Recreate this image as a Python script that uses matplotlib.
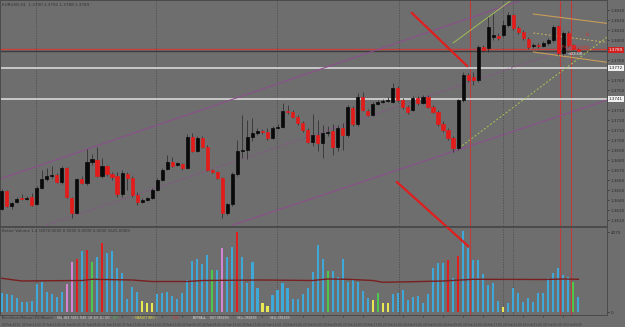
import matplotlib
matplotlib.use("Agg")
import matplotlib.pyplot as plt
import pandas as pd

# ---------------- data ----------------
opens = [1.3631, 1.3649, 1.3634, 1.3638, 1.3642, 1.3641, 1.3643, 1.3636, 1.3652, 1.3661,
         1.3664, 1.3665, 1.3658, 1.3672, 1.3642, 1.3627, 1.3661, 1.3657, 1.3678, 1.3680,
         1.3664, 1.3674, 1.3666, 1.3664, 1.3646, 1.3666, 1.3662, 1.3645, 1.3638, 1.3640,
         1.3642, 1.3650, 1.3660, 1.3671, 1.3678, 1.3675, 1.3676, 1.3672, 1.3703, 1.3689,
         1.3702, 1.3693, 1.3670, 1.3668, 1.3662, 1.3627, 1.3636, 1.3666, 1.3689, 1.3690,
         1.3703, 1.3707, 1.3709, 1.3708, 1.3702, 1.3712, 1.3713, 1.3729, 1.3728, 1.3723,
         1.3717, 1.3710, 1.3698, 1.3705, 1.3697, 1.3707, 1.3709, 1.3693, 1.3712, 1.3705,
         1.3732, 1.3716, 1.3743, 1.3729, 1.3725, 1.3736, 1.3738, 1.3739, 1.3738, 1.3752,
         1.3740, 1.3733, 1.3730, 1.3742, 1.3737, 1.3743, 1.3733, 1.3728, 1.3716, 1.3710,
         1.3702, 1.3692, 1.3740, 1.3765, 1.3763, 1.3760, 1.3793, 1.3792, 1.3803, 1.3804,
         1.3805, 1.3815, 1.3825, 1.3812, 1.3808, 1.3801, 1.3794, 1.3795, 1.3794, 1.3797,
         1.3800, 1.3814, 1.3787, 1.3807, 1.3795, 1.3791]
highs = [1.3651, 1.3650, 1.3638, 1.3643, 1.3646, 1.3644, 1.3647, 1.3654, 1.3670, 1.3672,
         1.3674, 1.3667, 1.3674, 1.3673, 1.3643, 1.3662, 1.3664, 1.3691, 1.3686, 1.3693,
         1.3682, 1.3675, 1.3668, 1.3668, 1.3670, 1.3668, 1.3664, 1.3648, 1.3642, 1.3643,
         1.3652, 1.3662, 1.3672, 1.3685, 1.3683, 1.3678, 1.3677, 1.3706, 1.3707, 1.3704,
         1.3704, 1.3695, 1.3671, 1.3669, 1.3663, 1.3637, 1.3668, 1.3700, 1.3725, 1.3720,
         1.3722, 1.3712, 1.3711, 1.3712, 1.3714, 1.3716, 1.3737, 1.3735, 1.3730, 1.3725,
         1.3719, 1.3712, 1.3726, 1.3720, 1.3715, 1.3714, 1.3716, 1.3715, 1.3717, 1.3735,
         1.3734, 1.3747, 1.3748, 1.3731, 1.3738, 1.3740, 1.3741, 1.3743, 1.3757, 1.3754,
         1.3742, 1.3735, 1.3744, 1.3744, 1.3745, 1.3745, 1.3735, 1.3730, 1.3719, 1.3712,
         1.3704, 1.3741, 1.3768, 1.3767, 1.3768, 1.3795, 1.3795, 1.3823, 1.3826, 1.3807,
         1.3820, 1.3828, 1.3826, 1.3814, 1.3810, 1.3803, 1.3797, 1.3797, 1.3799, 1.3802,
         1.3815, 1.3815, 1.3809, 1.3809, 1.3796, 1.3792]
lows = [1.3630, 1.3633, 1.3631, 1.3637, 1.3640, 1.3640, 1.3634, 1.3635, 1.3651, 1.3659,
        1.3662, 1.3657, 1.3656, 1.3642, 1.3622, 1.3626, 1.3656, 1.3655, 1.3675, 1.3663,
        1.3662, 1.3664, 1.3660, 1.3643, 1.3643, 1.3650, 1.3643, 1.3635, 1.3637, 1.3639,
        1.3641, 1.3649, 1.3659, 1.3670, 1.3673, 1.3674, 1.3670, 1.3671, 1.3688, 1.3688,
        1.3692, 1.3669, 1.3667, 1.3661, 1.3622, 1.3625, 1.3634, 1.3664, 1.3682, 1.3681,
        1.3699, 1.3705, 1.3706, 1.3700, 1.3701, 1.3711, 1.3712, 1.3726, 1.3722, 1.3715,
        1.3708, 1.3697, 1.3694, 1.3689, 1.3682, 1.3704, 1.3685, 1.3689, 1.3690, 1.3703,
        1.3714, 1.3714, 1.3729, 1.3724, 1.3724, 1.3735, 1.3737, 1.3738, 1.3737, 1.3738,
        1.3731, 1.3726, 1.3729, 1.3735, 1.3736, 1.3732, 1.3727, 1.3714, 1.3708, 1.3700,
        1.3688, 1.3690, 1.3738, 1.3758, 1.3755, 1.3758, 1.3788, 1.3788, 1.3800, 1.3800,
        1.3803, 1.3813, 1.3810, 1.3806, 1.3800, 1.3791, 1.3792, 1.3792, 1.3793, 1.3795,
        1.3798, 1.3785, 1.3785, 1.3793, 1.3790, 1.3788]
closes = [1.3649, 1.3634, 1.3637, 1.3641, 1.3641, 1.3642, 1.3635, 1.3652, 1.3661, 1.3664,
          1.3665, 1.3658, 1.3672, 1.3643, 1.3627, 1.3661, 1.3657, 1.3678, 1.3681, 1.3664,
          1.3674, 1.3666, 1.3663, 1.3646, 1.3667, 1.3662, 1.3645, 1.3638, 1.3640, 1.3642,
          1.3650, 1.3660, 1.3670, 1.3678, 1.3674, 1.3677, 1.3672, 1.3703, 1.3689, 1.3702,
          1.3693, 1.3670, 1.3668, 1.3662, 1.3627, 1.3636, 1.3666, 1.3689, 1.3690, 1.3703,
          1.3707, 1.3709, 1.3708, 1.3702, 1.3712, 1.3713, 1.3729, 1.3728, 1.3723, 1.3717,
          1.3710, 1.3698, 1.3705, 1.3697, 1.3707, 1.3708, 1.3693, 1.3712, 1.3705, 1.3733,
          1.3716, 1.3743, 1.3730, 1.3725, 1.3736, 1.3738, 1.3739, 1.3740, 1.3752, 1.3740,
          1.3733, 1.3728, 1.3742, 1.3737, 1.3743, 1.3733, 1.3728, 1.3716, 1.3710, 1.3702,
          1.3692, 1.3740, 1.3765, 1.3760, 1.3760, 1.3793, 1.3790, 1.3813, 1.3805, 1.3802,
          1.3815, 1.3825, 1.3812, 1.3808, 1.3802, 1.3793, 1.3795, 1.3794, 1.3797, 1.3800,
          1.3813, 1.3787, 1.3807, 1.3795, 1.3791, 1.3789]

volumes = [970, 900, 850, 720, 520, 490, 550, 1400, 1500, 1020,
           900, 770, 990, 1400, 2490, 2650, 3050, 3100, 2490, 2740,
           3440, 2970, 3070, 2190, 1970, 640, 1270, 1020, 550, 470,
           440, 900, 970, 1020, 800, 640, 970, 1600, 2570, 2640,
           2390, 2840, 2100, 2100, 3190, 2740, 3270, 4020, 2740, 1470,
           2490, 1190, 470, 320, 850, 1100, 1440, 1190, 650, 650,
           900, 1190, 2020, 3350, 2640, 2070, 2070, 1770, 2640, 1520,
           1640, 1520, 1050, 690, 600, 940, 440, 440, 900, 970,
           1100, 600, 740, 820, 470, 900, 2220, 2470, 2440, 2600,
           1720, 2800, 4070, 3190, 2600, 2600, 1900, 1350, 1440, 570,
           240, 440, 1190, 970, 520, 720, 520, 940, 970, 1720,
           1940, 2220, 1850, 1770, 1520, 740]
volume_types = list("bbbbbbbbbb" "bbbpprbrgb" "rbbbbbbbyy" "ybbbbbbbbb" "bbgbpbbrbb"
                    "bbyybbbbbb" "bbbbbgbbbb" "bbbbygyybb" "bbbbbbbbbr" "brbbbbbbbb"
                    "ybbbbbbbbb" "bbbbgb")

ma_index = [0, 4, 10, 16, 18, 26, 30, 37, 40, 52, 62, 65, 69, 74, 76, 82, 88, 94, 108, 112, 115]
ma_values = [1685, 1550, 1565, 1575, 1635, 1600, 1525, 1525, 1575, 1600, 1575,
             1650, 1635, 1575, 1485, 1515, 1550, 1635, 1625, 1650, 1635]

# trend lines: (x0, p0, x1, p1, color, style, width, clip)
trendlines = [
    (-0.34, 1.3661, 103.8, 1.3840, "#8c4f8c", "-", 0.8, True),
    (46.1, 1.3615, 120.7, 1.3740, "#8c4f8c", "-", 0.8, True),
    (8.97, 1.3615, 115.3, 1.3795, "#8c4f8c", (0, (2, 2)), 0.7, True),
    (91.2, 1.3692, 121.3, 1.3805, "#a8c850", (0, (2, 2)), 0.7, True),
    (90.0, 1.3797, 101.4, 1.3839, "#a8c850", "-", 0.6, True),
    (106.0, 1.3826, 121.7, 1.3816, "#c89c5a", "-", 0.8, True),
    (106.0, 1.3788, 121.7, 1.3777, "#c89c5a", "-", 0.8, True),
    (106.0, 1.3807, 121.7, 1.3797, "#c8b060", (0, (2, 2)), 0.7, True),
    (81.8, 1.3827, 92.8, 1.3774, "#e01e1e", "-", 1.6, True),
    (78.8, 1.3658, 93.0, 1.3594, "#e01e1e", "-", 1.6, False),
]
hlines = [(1.3791, "#c84040", 1.0), (1.3789, "#3c3c3c", 1.0),
          (1.3772, "#d8d8d8", 1.2), (1.3741, "#d8d8d8", 1.2)]
red_vlines = [93.3, 111.3, 113.5]
separators = [6.84, 30.8, 54.9, 79.2, 100.0, 102.0]
price_ticks = [1.3830, 1.3820, 1.3810, 1.3800, 1.3780, 1.3760, 1.3750,
               1.3730, 1.3720, 1.3710, 1.3700, 1.3690, 1.3680, 1.3670, 1.3660,
               1.3650, 1.3640, 1.3630, 1.3620]
time_labels_index = list(range(0, 116, 4))
times = pd.date_range("2014-02-20 17:00", periods=116, freq="h")

# ---------------- figure ----------------
BG = "#6e6e6e"
fig = plt.figure(figsize=(6.25, 3.27), dpi=100, facecolor=BG)
W, H = 625, 327
ax = fig.add_axes([0, 1 - 226 / H, 607 / W, 226 / H], zorder=2)
axv = fig.add_axes([0, 1 - 315 / H, 607 / W, 88 / H], zorder=1)
for a in (ax, axv):
    a.set_facecolor("none")
    a.set_xlim(-0.34, 120.7)
    for s in a.spines.values():
        s.set_color("#4a4a4a")
        s.set_linewidth(0.7)

ax.set_ylim(1.3614, 1.3840)
axv.set_ylim(-150, 4250)

idx = list(range(len(opens)))
for a in (ax, axv):
    for s in separators:
        a.axvline(s, color="#4e4e4e", lw=0.6, ls=(0, (1.5, 1.5)), zorder=0.5)
    for v in red_vlines:
        a.axvline(v, color="#c03a3a", lw=0.8, zorder=0.6)

for p, c, lw in hlines:
    ax.axhline(p, color=c, lw=lw, zorder=1)

for x0, p0, x1, p1, c, ls, lw, clip in trendlines:
    ax.plot([x0, x1], [p0, p1], color=c, ls=ls, lw=lw, zorder=1.5, clip_on=clip)

# candles
ax.vlines(idx, lows, highs, color="#333333", lw=0.6, zorder=2)
body_colors = ["#0a0a0a" if c >= o else "#e31b1b" for o, c in zip(opens, closes)]
bottoms = [min(o, c) for o, c in zip(opens, closes)]
heights = [abs(c - o) for o, c in zip(opens, closes)]
ax.bar(idx, heights, bottom=bottoms, width=0.62, color=body_colors,
       edgecolor=body_colors, linewidth=0.5, zorder=3)

# volume
cmap = {"b": "#3ea8d8", "r": "#e02020", "g": "#4cc94c", "p": "#d484d4", "y": "#e8e850"}
axv.bar(idx, volumes, width=0.42, color=[cmap[t] for t in volume_types], zorder=2)
axv.plot(ma_index, ma_values, color="#7a1f1f", lw=1.0, zorder=3)

# axes ticks
ax.set_xticks([])
ax.yaxis.tick_right()
ax.set_yticks(price_ticks)
ax.set_yticklabels([f"{p:.4f}" for p in price_ticks])
ax.tick_params(axis="y", labelsize=3, colors="#2c2c2c", length=1.5, width=0.5, pad=1)

axv.yaxis.tick_right()
axv.set_yticks([0, 4000])
axv.set_yticklabels(["0", "4070"])
axv.tick_params(axis="y", labelsize=3, colors="#2c2c2c", length=1.5, width=0.5, pad=1)
axv.set_xticks(time_labels_index)
lbls = []
for k, i in enumerate(time_labels_index):
    t = times[i]
    lbls.append(t.strftime("%d %b %Y") if k == 0 else t.strftime("%d %b %H:%M"))
axv.set_xticklabels(lbls, ha="left")
axv.tick_params(axis="x", labelsize=2.1, colors="#3a3a3a", length=1.2, width=0.5, pad=4.3)

# price labels on right
ytr = ax.get_yaxis_transform()
ax.text(1.003, 1.3790, "1.3789", transform=ytr, fontsize=3, color="white", va="center",
        bbox=dict(fc="#d02020", ec="none", pad=0.6), clip_on=False, zorder=5)
for p in (1.3772, 1.3741):
    ax.text(1.003, p, f"{p:.4f}", transform=ytr, fontsize=3, color="#202020", va="center",
            bbox=dict(fc="#f0f0f0", ec="none", pad=0.6), clip_on=False, zorder=5)

# texts
ax.text(0.004, 0.985, "EURUSD,H1  1.3790 1.3792 1.3788 1.3789", transform=ax.transAxes,
        fontsize=3, color="#333333", va="top")
axv.text(0.004, 0.975, "Better Volume 1.4 (4070.0000 0.0000 0.0000 0.0000 1625.0000)",
         transform=axv.transAxes, fontsize=2.8, color="#333333", va="top")
ax.text(111.8, 1.3793, "Pending order", fontsize=2.8, color="#e03030", va="center")
ax.text(112.8, 1.3786, "<03:00", fontsize=3, color="#f0f0f0", va="center")
ax.text(116.4, 1.3806, "o", fontsize=3.5, color="#e03030", va="center")

fy = 1 - 317.8 / H
items = [(2, "BetterVolume(Indicator) SSL(Indicator)", "#3a3a3a", 1.9),
         (57, "SSL  HL5  5015  M30  1H  4H  1D  GO", "#d8d8d8", 2.1),
         (113, "BUY", "#40c040", 2.1), (132, "~ MARKET INFO ~", "#e8e040", 2.1),
         (173, "SELL", "#e03030", 2.1), (193, "BUY/SELL", "#f0f0f0", 2.1),
         (210, "BUY ORDERS", "#d0d0d0", 2.1), (237, "SELL ORDERS", "#d0d0d0", 2.1),
         (270, "SELL ORDERS", "#d0d0d0", 2.1)]
for x, s, c, fs in items:
    fig.text(x / W, fy, s, fontsize=fs, color=c, va="center")

fig.savefig("out.png", dpi=100, facecolor=BG)
